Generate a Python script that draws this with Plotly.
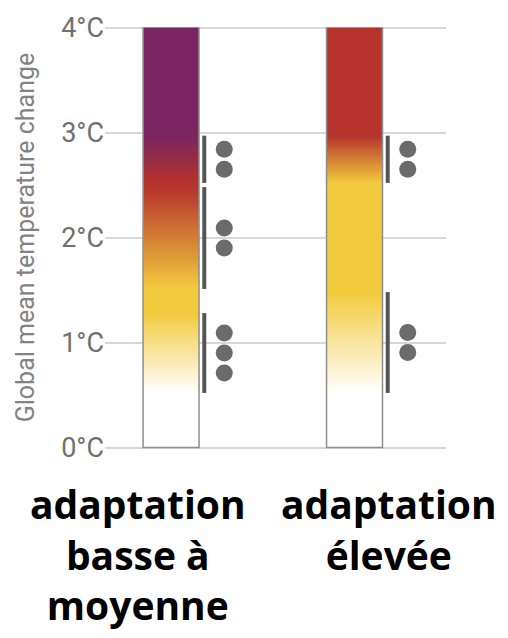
import plotly.graph_objects as go

# ---- data -------------------------------------------------------------
categories = ["adaptation<br>basse à<br>moyenne", "adaptation<br>élevée"]
temp_ticks = [0, 1, 2, 3, 4]
tick_labels = ["0°C", "1°C", "2°C", "3°C", "4°C"]
scale_top = 4

# risk levels: undetectable, moderate, high, very high
risk_colors = ["#ffffff", "#f2ca3d", "#b5332c", "#7a2561"]

# transitions for "basse à moyenne": start / end temperature, level reached, confidence dots
low_start = [0.52, 1.51, 2.52]
low_end = [1.28, 2.48, 2.97]
low_level = [1, 2, 3]
low_conf = [3, 2, 2]

# transitions for "élevée"
high_start = [0.52, 2.52]
high_end = [1.48, 2.97]
high_level = [1, 2]
high_conf = [2, 2]

# ---- layout constants ----------------------------------------------------
bar_width = 0.305
line_offset = 0.181
dot_offset = 0.29
dot_step = 0.19

series = [
    (low_start, low_end, low_level, low_conf),
    (high_start, high_end, high_level, high_conf),
]

fig = go.Figure()

for i, (starts, ends, levels, conf) in enumerate(series):
    # colour scale along the temperature axis
    cs = [[0.0, risk_colors[0]]]
    for s, e, lv in zip(starts, ends, levels):
        cs.append([s / scale_top, risk_colors[lv - 1]])
        cs.append([e / scale_top, risk_colors[lv]])
    cs.append([1.0, risk_colors[levels[-1]]])

    x0, x1 = i - bar_width / 2, i + bar_width / 2
    fig.add_trace(go.Scatter(
        x=[x0, x0, x1, x1], y=[scale_top, 0, 0, scale_top],
        mode="lines", fill="toself",
        fillgradient=dict(type="vertical", colorscale=cs, start=0, stop=scale_top),
        line=dict(color="#8e8e8e", width=1.5),
        hoverinfo="skip", showlegend=False,
    ))

    # transition ranges
    lx, ly = [], []
    for s, e in zip(starts, ends):
        lx += [i + line_offset, i + line_offset, None]
        ly += [s, e, None]
    fig.add_trace(go.Scatter(
        x=lx, y=ly, mode="lines",
        line=dict(color="#555555", width=4),
        hoverinfo="skip", showlegend=False,
    ))

    # confidence dots
    dx, dy = [], []
    for s, e, n in zip(starts, ends, conf):
        mid = (s + e) / 2
        for k in range(n):
            dx.append(i + dot_offset)
            dy.append(mid + ((n - 1) / 2 - k) * dot_step)
    fig.add_trace(go.Scatter(
        x=dx, y=dy, mode="markers",
        marker=dict(color="#6b6b6b", size=17),
        hoverinfo="skip", showlegend=False,
    ))

# category labels
for i, (label, shift) in enumerate(zip(categories, [-33, 34])):
    fig.add_annotation(
        x=i, y=0, xref="x", yref="paper", xshift=shift, yshift=-17,
        yanchor="top", xanchor="center", align="center", showarrow=False,
        text="<b>" + label + "</b>",
        font=dict(family="Open Sans", size=39, color="#000000"),
    )

fig.update_layout(
    width=508, height=638,
    margin=dict(l=105, r=62, t=17, b=180),
    paper_bgcolor="white", plot_bgcolor="white",
    font=dict(family="Roboto, Arial", color="#707070"),
    xaxis=dict(range=[-0.36, 1.4986], showgrid=False, zeroline=False,
               showticklabels=False, showline=False, fixedrange=True),
    yaxis=dict(range=[-0.1, 4.1], tickvals=temp_ticks, ticktext=tick_labels,
               tickfont=dict(size=27, color="#707070"),
               showgrid=True, gridcolor="#d8d8d8", gridwidth=2,
               zeroline=False, showline=False, ticks="",
               title=dict(text="Global mean temperature change",
                          font=dict(size=25, color="#828282"), standoff=19)),
)

fig.write_html("out.html")
